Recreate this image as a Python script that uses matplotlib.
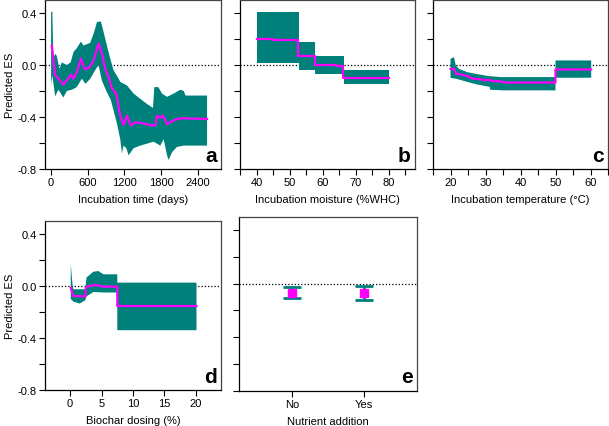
import matplotlib
matplotlib.use("Agg")
import matplotlib.pyplot as plt
import numpy as np
from matplotlib.ticker import MultipleLocator

plt.rcParams['font.family'] = ['Liberation Sans', 'DejaVu Sans']

TEAL = '#00807b'
MAG = '#ff00ff'

# ---------------- data ----------------
# Panel a: incubation time (days)
a_line_x = [10, 38, 66, 120, 200, 257, 322, 366, 421, 487, 546, 612, 683, 776, 831, 885, 940,
            995, 1066, 1131, 1186, 1241, 1306, 1377, 1513, 1650, 1705, 1733, 1787, 1831, 1897,
            2005, 2115, 2552]
a_line_y = [0.15, 0.035, -0.08, -0.105, -0.15, -0.12, -0.075, -0.105, -0.055, 0.05, -0.03,
            -0.025, 0.02, 0.165, 0.09, -0.03, -0.09, -0.18, -0.22, -0.39, -0.46, -0.39, -0.465,
            -0.44, -0.45, -0.465, -0.465, -0.39, -0.405, -0.39, -0.455, -0.425, -0.41, -0.415]
a_up_x = [0, 20, 38, 66, 93, 136, 175, 257, 320, 366, 421, 487, 530, 640, 705, 750, 815, 858,
          913, 967, 1022, 1104, 1131, 1241, 1350, 1459, 1569, 1667, 1689, 1755, 1815, 1897,
          2005, 2115, 2170, 2200, 2552]
a_up_y = [0.41, 0.41, 0.05, 0.087, 0.07, -0.03, 0.02, 0.0, 0.02, 0.1, 0.13, 0.18, 0.15, 0.17,
          0.255, 0.33, 0.335, 0.255, 0.15, 0.05, -0.04, -0.105, -0.13, -0.157, -0.22, -0.26,
          -0.3, -0.33, -0.17, -0.17, -0.22, -0.245, -0.22, -0.19, -0.2, -0.235, -0.235]
a_lo_x = [0, 20, 66, 120, 200, 257, 340, 421, 503, 562, 640, 721, 776, 831, 913, 978, 1022,
          1077, 1131, 1159, 1186, 1230, 1268, 1350, 1459, 1569, 1678, 1787, 1842, 1897, 1924,
          1980, 2060, 2170, 2552]
a_lo_y = [-0.15, -0.08, -0.24, -0.19, -0.25, -0.2, -0.19, -0.17, -0.105, -0.145, -0.105, -0.04,
          0.0, -0.12, -0.21, -0.27, -0.35, -0.45, -0.57, -0.68, -0.62, -0.64, -0.695, -0.64,
          -0.62, -0.605, -0.59, -0.62, -0.57, -0.695, -0.73, -0.67, -0.63, -0.62, -0.62]

# Panel b: incubation moisture (%WHC), step functions
b_band_x = [40, 52.8, 57.7, 66.4, 80.2]
b_band_up = [0.41, 0.18, 0.07, -0.04, -0.04]
b_band_lo = [0.015, -0.036, -0.067, -0.144, -0.144]
b_line_x = [40, 45, 52.6, 57.8, 64, 66.3, 80.2]
b_line_y = [0.197, 0.19, 0.066, 0.0, -0.005, -0.098, -0.098]

# Panel c: incubation temperature (°C)
c_up_x = [20, 21, 21.5, 22.4, 24.8, 27.6, 30.9, 34.3, 50, 50, 60.2]
c_up_y = [0.048, 0.06, -0.003, -0.03, -0.055, -0.07, -0.085, -0.093, -0.093, 0.035, 0.035]
c_lo_x = [20, 21.5, 24.8, 27.6, 31.2, 31.3, 35.2, 50, 50, 60.2]
c_lo_y = [-0.1, -0.105, -0.13, -0.15, -0.168, -0.19, -0.195, -0.195, -0.098, -0.098]
c_line_x = [20, 21, 21.7, 23.3, 24.8, 26.2, 28.6, 30, 31, 32, 34.3, 35.7, 50, 50, 60.2]
c_line_y = [-0.03, -0.03, -0.07, -0.075, -0.085, -0.105, -0.11, -0.118, -0.113, -0.125,
            -0.125, -0.135, -0.135, -0.034, -0.034]

# Panel d: biochar dosing (%)
d_up_x = [0.1, 0.4, 0.53, 2.4, 2.6, 3.7, 4.5, 5.3, 7.5, 7.5, 20.1]
d_up_y = [0.167, 0.0, -0.025, -0.025, 0.065, 0.11, 0.115, 0.09, 0.09, 0.026, 0.026]
d_lo_x = [0.1, 0.53, 1.5, 2.4, 2.6, 3.7, 5.3, 7.5, 7.5, 20.1]
d_lo_y = [-0.1, -0.12, -0.135, -0.11, -0.08, -0.046, -0.05, -0.05, -0.34, -0.34]
d_line_x = [0.1, 0.5, 2.4, 2.5, 3.0, 4.1, 4.8, 5.3, 7.5, 7.5, 20.1]
d_line_y = [-0.013, -0.077, -0.08, -0.013, 0.0, 0.008, 0.0, -0.005, -0.005, -0.154, -0.154]

# Panel e: nutrient addition
e_cats = ['No', 'Yes']
e_mean = [-0.068, -0.07]
e_upper = [-0.025, -0.018]
e_lower = [-0.105, -0.12]

# ---------------- figure ----------------
W, H = 609, 427
fig = plt.figure(figsize=(W / 100, H / 100), dpi=100)


def px_axes(l, t, r, b):
    return fig.add_axes([l / W, 1 - b / H, (r - l) / W, (b - t) / H])


ax_a = px_axes(45, 1, 221, 170)
ax_b = px_axes(240, 1, 415, 170)
ax_c = px_axes(433, 1, 608, 170)
ax_d = px_axes(45, 222, 221, 391)
ax_e = px_axes(239, 218, 417, 391.5)


def style(ax, letter, ylabels):
    ax.set_ylim(-0.8, 0.5)
    ax.set_yticks([-0.8, -0.4, 0.0, 0.4])
    ax.yaxis.set_minor_locator(MultipleLocator(0.2))
    if ylabels:
        ax.set_yticklabels(['-0.8', '-0.4', '0.0', '0.4'])
        ax.set_ylabel('Predicted ES', fontsize=8, labelpad=2)
    else:
        ax.set_yticklabels([])
    ax.tick_params(which='major', direction='out', length=4, width=0.8, labelsize=8, pad=2)
    ax.tick_params(which='minor', direction='out', length=4, width=0.8)
    for s in ['top', 'right']:
        ax.spines[s].set_color('#444444')
        ax.spines[s].set_linewidth(0.9)
    for s in ['left', 'bottom']:
        ax.spines[s].set_color('black')
        ax.spines[s].set_linewidth(0.9)
    ax.axhline(0, color='black', linestyle=(0, (1, 1.6)), linewidth=0.9, zorder=1)
    ax.text(0.975, 0.025, letter, transform=ax.transAxes, ha='right', va='bottom',
            fontsize=15, fontweight='bold')


# a
ax_a.fill(np.r_[a_up_x, a_lo_x[::-1]], np.r_[a_up_y, a_lo_y[::-1]], color=TEAL, lw=0, zorder=2)
ax_a.plot(a_line_x, a_line_y, color=MAG, lw=1.6, zorder=3)
ax_a.set_xlim(-100, 2780)
ax_a.set_xticks([0, 600, 1200, 1800, 2400])
ax_a.set_xlabel('Incubation time (days)', fontsize=8, labelpad=5)
style(ax_a, 'a', True)

# b
ax_b.fill_between(b_band_x, b_band_lo, b_band_up, step='post', color=TEAL, lw=0, zorder=2)
ax_b.plot(b_line_x, b_line_y, drawstyle='steps-post', color=MAG, lw=1.6, zorder=3)
ax_b.set_xlim(35, 88)
ax_b.set_xticks([40, 50, 60, 70, 80])
ax_b.xaxis.set_minor_locator(MultipleLocator(5))
ax_b.set_xlabel('Incubation moisture (%WHC)', fontsize=8, labelpad=5)
style(ax_b, 'b', False)

# c
ax_c.fill(np.r_[c_up_x, c_lo_x[::-1]], np.r_[c_up_y, c_lo_y[::-1]], color=TEAL, lw=0, zorder=2)
ax_c.plot(c_line_x, c_line_y, color=MAG, lw=1.6, zorder=3)
ax_c.set_xlim(15, 65)
ax_c.set_xticks([20, 30, 40, 50, 60])
ax_c.xaxis.set_minor_locator(MultipleLocator(5))
ax_c.set_xlabel('Incubation temperature (°C)', fontsize=8, labelpad=5)
style(ax_c, 'c', False)

# d
ax_d.fill(np.r_[d_up_x, d_lo_x[::-1]], np.r_[d_up_y, d_lo_y[::-1]], color=TEAL, lw=0, zorder=2)
ax_d.plot(d_line_x, d_line_y, color=MAG, lw=1.6, zorder=3)
ax_d.set_xlim(-4, 24)
ax_d.set_xticks([0, 5, 10, 15, 20])
ax_d.set_xlabel('Biochar dosing (%)', fontsize=8, labelpad=5)
style(ax_d, 'd', True)

# e
xe = np.arange(len(e_cats))
err = [np.array(e_mean) - np.array(e_lower), np.array(e_upper) - np.array(e_mean)]
ax_e.errorbar(xe, e_mean, yerr=err, fmt='none', ecolor=TEAL, elinewidth=2,
              capsize=6.5, capthick=2, zorder=2)
ax_e.plot(xe, e_mean, 's', color=MAG, markersize=5.5, zorder=3)
ax_e.set_xlim(-0.75, 1.75)
ax_e.set_xticks(xe)
ax_e.set_xticklabels(e_cats)
ax_e.set_xlabel('Nutrient addition', fontsize=8, labelpad=5)
style(ax_e, 'e', False)

fig.savefig('out.png', dpi=100)
